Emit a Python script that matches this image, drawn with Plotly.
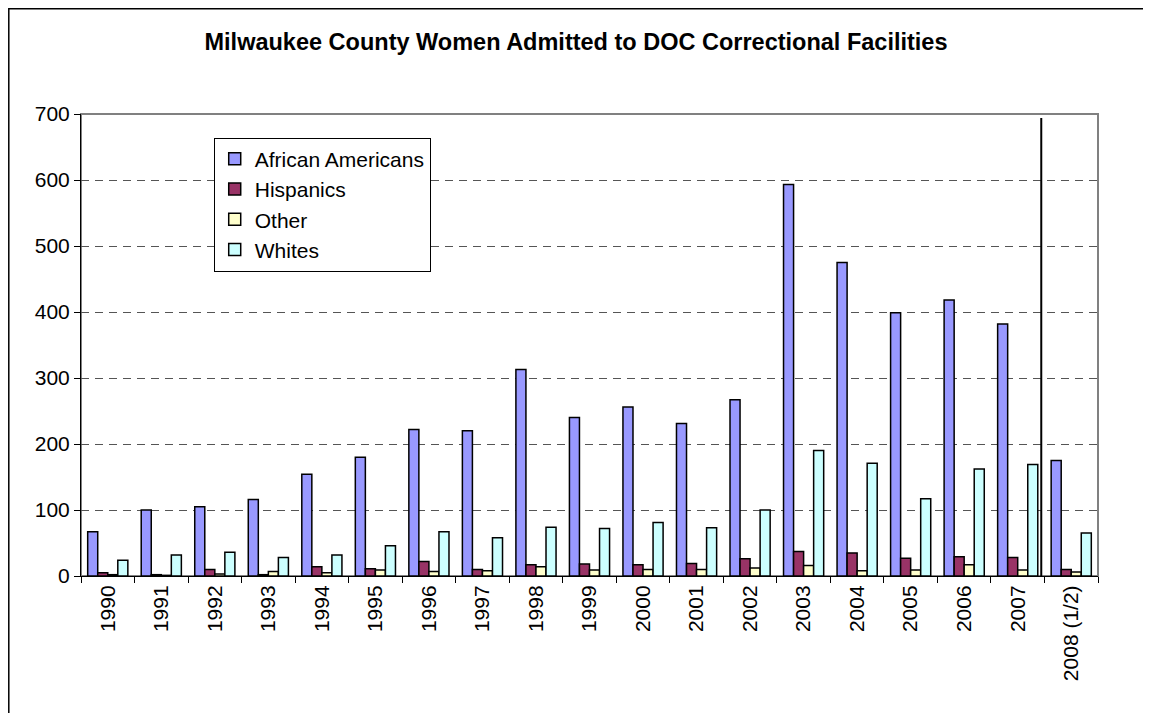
import plotly.graph_objects as go

years = ["1990", "1991", "1992", "1993", "1994", "1995", "1996", "1997", "1998", "1999",
         "2000", "2001", "2002", "2003", "2004", "2005", "2006", "2007", "2008 (1/2)"]

african_americans = [67, 100, 105, 116, 154, 180, 222, 220, 313, 240,
                     256, 231, 267, 593, 475, 399, 418, 382, 175]
hispanics = [5, 2, 10, 2, 14, 11, 22, 10, 17, 18,
             17, 19, 26, 37, 35, 27, 29, 28, 10]
other = [2, 1, 3, 7, 5, 9, 7, 8, 14, 9,
         10, 10, 12, 16, 8, 9, 17, 9, 6]
whites = [24, 32, 36, 28, 32, 46, 67, 58, 74, 72,
          81, 73, 100, 190, 171, 117, 162, 169, 65]

series = [
    ("African Americans", african_americans, "#9999FF"),
    ("Hispanics", hispanics, "#993366"),
    ("Other", other, "#FFFFCC"),
    ("Whites", whites, "#CCFFFF"),
]

FONT = "Liberation Sans, Arial, sans-serif"

# the page body adds an 8px offset, so the figure is sized to fit the window
W, H = 1143, 705

fig = go.Figure()
for name, vals, color in series:
    fig.add_trace(go.Bar(
        x=years, y=vals, name=name, legendgroup=name,
        marker=dict(color=color, line=dict(color="black", width=1.5)),
    ))

# vertical divider before the half-year 2008 figures
fig.add_shape(type="line", xref="x", yref="y", x0=17.44, x1=17.44, y0=0, y1=694,
              line=dict(color="black", width=2))

# grey border on plot area (top / right)
fig.add_shape(type="rect", xref="paper", yref="paper", x0=0, x1=1, y0=0, y1=1,
              line=dict(color="#808080", width=2), layer="below")

# outer chart border (left and top visible), hugging the figure edge
fig.add_shape(type="path", xref="paper", yref="paper",
              path="M -0.0710,-0.35 L -0.0710,1.2278 L 1.2,1.2278",
              line=dict(color="black", width=1.5))

fig.update_layout(
    width=W, height=H,
    margin=dict(l=73, r=53, t=106, b=137),
    paper_bgcolor="white", plot_bgcolor="white",
    font=dict(family=FONT, size=21, color="black"),
    title=dict(text="<b>Milwaukee County Women Admitted to DOC Correctional Facilities</b>",
               x=568 / W, xref="container", xanchor="center",
               y=1 - 34 / H, yref="container", yanchor="middle",
               font=dict(family=FONT, size=23.5, color="black")),
    barmode="group", bargap=0.25, bargroupgap=0,
    showlegend=True,
    legend=dict(x=0.1305, y=0.949, xanchor="left", yanchor="top",
                bgcolor="white", bordercolor="black", borderwidth=1,
                font=dict(family=FONT, size=21), tracegroupgap=9,
                traceorder="normal"),
)

fig.update_xaxes(
    type="category", tickangle=-90,
    showline=True, linecolor="black", linewidth=1,
    ticks="outside", tickson="boundaries", ticklen=6, tickcolor="black",
    showgrid=False, tickfont=dict(family=FONT, size=21),
)
fig.update_yaxes(
    range=[0, 700], dtick=100, tickmode="linear",
    showline=True, linecolor="black", linewidth=1,
    ticks="outside", ticklen=6, tickcolor="black",
    showgrid=True, gridcolor="#555555", gridwidth=1, griddash="8px,6px",
    zeroline=False, tickfont=dict(family=FONT, size=21),
)

fig.write_html("out.html")
